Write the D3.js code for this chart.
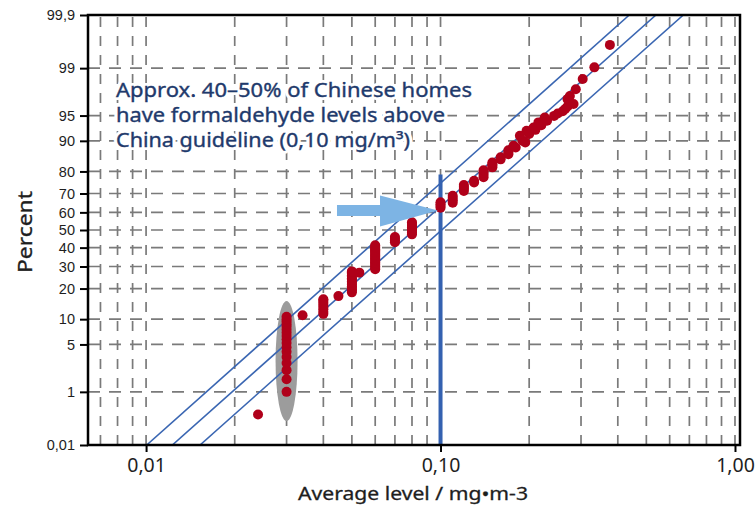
<!DOCTYPE html>
<html><head><meta charset="utf-8">
<script src="https://cdn.jsdelivr.net/npm/d3@7/dist/d3.min.js"></script>
<style>
html,body{margin:0;padding:0;background:#fff;}
svg{display:block;font-family:"Noto Sans",sans-serif;}
</style></head>
<body><svg id="c" width="756" height="507"></svg>
<script>
// ---------------- data ----------------
const xTickValues = [0.01, 0.1, 1];
const xTickLabels = ["0,01", "0,10", "1,00"];
const xGridValues = [0.007,0.008,0.009,0.01,0.02,0.03,0.04,0.05,0.06,0.07,0.08,0.09,0.1,0.2,0.3,0.4,0.5,0.6,0.7,0.8,0.9,1];
const yTickValues = [0.1, 1, 5, 10, 20, 30, 40, 50, 60, 70, 80, 90, 95, 99, 99.9];
const yTickLabels = ["0,01","1","5","10","20","30","40","50","60","70","80","90","95","99","99,9"];
const yGridValues = [1, 5, 10, 20, 30, 40, 50, 60, 70, 80, 90, 95, 99];

// measured levels (mg/m3) and cumulative percent
const pointX = [0.024,
 0.03,0.03,0.03,0.03,0.03,0.03,0.03,0.03,0.03,0.03,0.03,0.03,0.03,0.03,0.03,0.03,0.03,
 0.034,
 0.04,0.04,0.04,0.04,0.04,0.04,0.04,0.04,
 0.045,
 0.05,0.05,0.05,0.05,0.05,0.05,0.05,0.05,0.05,0.05,0.05,0.05,0.05,0.05,0.05,
 0.053,
 0.06,0.06,0.06,0.06,0.06,0.06,0.06,0.06,0.06,0.06,0.06,0.06,0.06,0.06,0.06,0.06,0.06,0.06,0.06,
 0.07,0.07,0.07,0.07,
 0.08,0.08,0.08,0.08,0.08,0.08,0.08,0.08,
 0.10,0.10,0.10,0.10,
 0.11,0.11,0.11,0.11,
 0.12,0.12,0.12,0.12,
 0.13,0.13,
 0.14,0.14,0.14,0.14,
 0.15,0.15,0.15,0.15,
 0.16,0.16,
 0.17,0.17,0.17,
 0.177,0.18,0.186,0.19,0.194,0.196,0.2,0.207,0.21,0.215,0.22,0.226,0.23,0.243,0.25,0.26,0.265,0.27,0.27,0.275,0.283,0.288,0.304,0.333,0.376];
const pointP = [0.4,
 1.0,1.6,2.2,2.8,3.4,4.0,4.6,5.2,5.8,6.4,7.0,7.6,8.2,8.8,9.4,10.0,10.6,
 11.0,
 11.4,12.0,12.7,13.4,14.1,14.8,15.5,16.0,
 17.1,
 18.5,19.1,19.7,20.3,20.9,21.6,22.3,23.0,23.7,24.4,25.1,25.8,26.5,27.2,27.6,
 27.0,
 28.6,29.3,30.0,30.7,31.4,32.1,32.8,33.5,34.2,34.9,35.6,36.3,37.0,37.7,38.4,39.1,39.8,40.5,41.3,
 43.0,44.0,45.0,46.0,
 47.5,48.5,49.5,50.5,51.5,52.5,53.5,54.4,
 62.5,63.5,64.5,65.5,
 65.3,66.5,67.7,68.9,
 71.3,72.3,73.2,74.1,
 75.3,76.0,
 77.6,78.6,79.6,80.5,
 81.6,82.2,82.8,83.4,
 84.5,85.2,
 86.2,86.7,87.4,
 88.7,88.2,91.2,90.0,89.6,92.3,91.6,92.96,92.5,93.9,93.4,94.7,94.2,94.95,95.3,95.6,95.9,96.2,97.0,97.3,96.5,97.85,98.5,99.03,99.61];

// fitted line and bounds: [x at bottom, x at top]
const fitLinesX = [[0.01005, 0.4376], [0.01228, 0.539], [0.01525, 0.6676]];
const fitLinesP = [0.1, 99.9];

// annotations
const guidelineX = 0.1, guidelineTopP = 78.8;
const ellipseX = 0.03, ellipseTopP = 15.4, ellipseBottomP = 0.3;
const arrowFromX = 0.0445, arrowHeadX = 0.0623, arrowToX = 0.098, arrowP = 61;
const noteLines = ["Approx. 40\u201350% of Chinese homes", "have formaldehyde levels above", "China guideline (0,10 mg/m\u00B3)"];
const noteWidths = [356, 329, 294];
const xTitle = "Average level / mg\u2022m-3";
const yTitle = "Percent";

// ---------------- helpers ----------------
function probit(p){
 const a=[-3.969683028665376e+01,2.209460984245205e+02,-2.759285104469687e+02,1.383577518672690e+02,-3.066479806614716e+01,2.506628277459239e+00];
 const b=[-5.447609879822406e+01,1.615858368580409e+02,-1.556989798598866e+02,6.680131188771972e+01,-1.328068155288572e+01];
 const c=[-7.784894002430293e-03,-3.223964580411365e-01,-2.400758277161838e+00,-2.549732539343734e+00,4.374664141464968e+00,2.938163982698783e+00];
 const d=[7.784695709041462e-03,3.224671290700398e-01,2.445134137142996e+00,3.754408661907416e+00];
 const pl=0.02425, ph=1-pl; let q,r;
 if(p<pl){q=Math.sqrt(-2*Math.log(p));return (((((c[0]*q+c[1])*q+c[2])*q+c[3])*q+c[4])*q+c[5])/((((d[0]*q+d[1])*q+d[2])*q+d[3])*q+1);}
 if(p<=ph){q=p-0.5;r=q*q;return (((((a[0]*r+a[1])*r+a[2])*r+a[3])*r+a[4])*r+a[5])*q/(((((b[0]*r+b[1])*r+b[2])*r+b[3])*r+b[4])*r+1);}
 q=Math.sqrt(-2*Math.log(1-p));return -(((((c[0]*q+c[1])*q+c[2])*q+c[3])*q+c[4])*q+c[5])/((((d[0]*q+d[1])*q+d[2])*q+d[3])*q+1);
}
const z = p => probit(p/100);

// ---------------- layout ----------------
const L = 88, R = 740, T = 15, B = 445;
const svg = d3.select("#c");
const x = d3.scaleLog().domain([0.00635, 1.04]).range([L, R]);
const zs = d3.scaleLinear().domain([z(0.1), z(99.9)]).range([B, T]);
const y = p => zs(z(p));

const NAVY = "#1f3a6c", RED = "#b0001a", LINEBLUE = "#3a66b2", GRID = "#7a7a7a", DARK = "#1e1e1e";

svg.append("defs").append("clipPath").attr("id","clip")
 .append("rect").attr("x",L).attr("y",T).attr("width",R-L).attr("height",B-T);

// grid
const g = svg.append("g");
g.selectAll("line.h").data(yGridValues).join("line")
 .attr("x1",L).attr("x2",R).attr("y1",d=>y(d)).attr("y2",d=>y(d))
 .attr("stroke",GRID).attr("stroke-width",1.7).attr("stroke-dasharray","12,9");
g.selectAll("line.v").data(xGridValues).join("line")
 .attr("x1",d=>x(d)).attr("x2",d=>x(d)).attr("y1",T+2).attr("y2",B)
 .attr("stroke",GRID).attr("stroke-width",1.7).attr("stroke-dasharray","10,9");

const plot = svg.append("g").attr("clip-path","url(#clip)");

// ellipse
const ecy = (y(ellipseTopP)+y(ellipseBottomP))/2;
plot.append("ellipse").attr("cx",x(ellipseX)).attr("cy",ecy)
 .attr("rx",11).attr("ry",(y(ellipseBottomP)-y(ellipseTopP))/2).attr("fill","#9c9c9c");

// fit lines
plot.selectAll("line.fit").data(fitLinesX).join("line")
 .attr("x1",d=>x(d[0])).attr("y1",y(fitLinesP[0])).attr("x2",d=>x(d[1])).attr("y2",y(fitLinesP[1]))
 .attr("stroke",LINEBLUE).attr("stroke-width",1.6);

// guideline
plot.append("line").attr("x1",x(guidelineX)).attr("x2",x(guidelineX))
 .attr("y1",y(guidelineTopP)).attr("y2",B).attr("stroke","#3461b0").attr("stroke-width",4);

// points
plot.selectAll("circle.pt").data(pointX.map((v,i)=>[v,pointP[i]])).join("circle")
 .attr("cx",d=>x(d[0])).attr("cy",d=>y(d[1])).attr("r",5).attr("fill",RED);

// arrow
const ay = y(arrowP), ax0 = x(arrowFromX), axh = x(arrowHeadX), ax1 = x(arrowToX);
svg.append("path").attr("d",`M${ax0},${ay-5.5}L${axh},${ay-5.5}L${axh},${ay-15}L${ax1},${ay}L${axh},${ay+16}L${axh},${ay+5.5}L${ax0},${ay+5.5}Z`)
 .attr("fill","#7db4e4");

// note (white halo layer, then text layer)
[true,false].forEach(halo=>{
 const note = svg.append("text").attr("fill",NAVY).attr("font-size",19);
 if(halo) note.attr("stroke","#fff").attr("stroke-width",6).attr("stroke-linejoin","round");
 else note.attr("stroke",NAVY).attr("stroke-width",0.35);
 noteLines.forEach((t,i)=>note.append("tspan").attr("x",116).attr("y",97+25*i)
   .attr("textLength",noteWidths[i]).attr("lengthAdjust","spacingAndGlyphs").text(t));
});

// frame
svg.append("rect").attr("x",L).attr("y",T).attr("width",R-L).attr("height",B-T)
 .attr("fill","none").attr("stroke","#000").attr("stroke-width",2.5);

// axes
const ax = svg.append("g").attr("transform",`translate(0,${B})`)
 .call(d3.axisBottom(x).tickValues(xTickValues).tickFormat((d,i)=>xTickLabels[i]).tickSize(7).tickPadding(6));
ax.select(".domain").remove();
ax.selectAll("line").attr("stroke","#000").attr("stroke-width",2);
ax.selectAll("text").attr("font-size",19.5).attr("fill",DARK).attr("font-family","Noto Sans");

const ay2 = svg.append("g").attr("transform",`translate(${L},0)`)
 .call(d3.axisLeft(zs).tickValues(yTickValues.map(z)).tickFormat((d,i)=>yTickLabels[i]).tickSize(8).tickPadding(5));
ay2.select(".domain").remove();
ay2.selectAll("line").attr("stroke","#000").attr("stroke-width",2);
ay2.selectAll("text").attr("font-size",14.5).attr("fill",DARK).attr("font-family","Liberation Sans");

svg.append("text").attr("x",413).attr("y",500).attr("text-anchor","middle")
 .attr("font-size",18.5).attr("fill",DARK).attr("stroke",DARK).attr("stroke-width",0.3)
 .attr("textLength",230).attr("lengthAdjust","spacingAndGlyphs").text(xTitle);
svg.append("text").attr("transform",`translate(32,232) rotate(-90)`).attr("text-anchor","middle")
 .attr("font-size",19).attr("fill",DARK).attr("stroke",DARK).attr("stroke-width",0.3)
 .attr("textLength",82).attr("lengthAdjust","spacingAndGlyphs").text(yTitle);
</script></body></html>
